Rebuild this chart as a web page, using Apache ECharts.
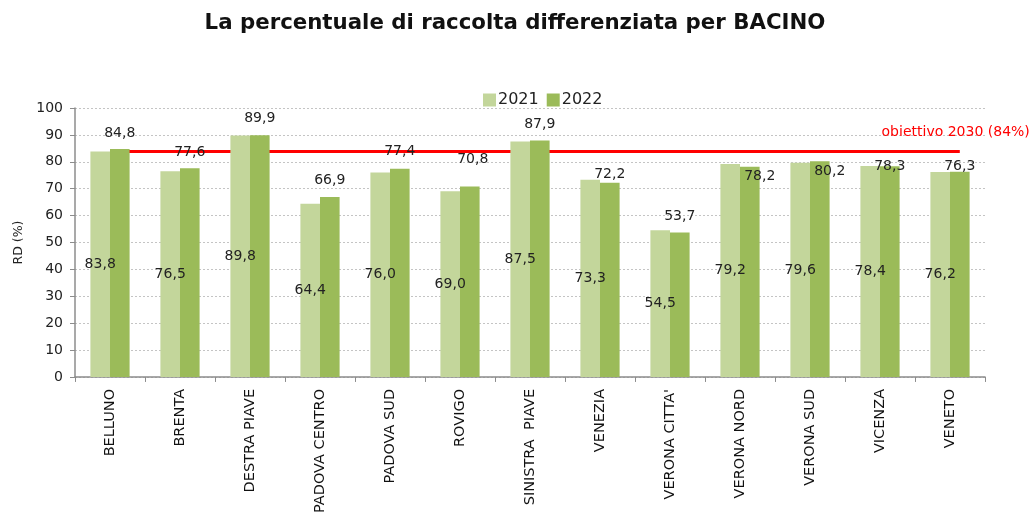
<!DOCTYPE html>
<html>
<head>
<meta charset="utf-8">
<script src="https://cdn.jsdelivr.net/npm/echarts@6/dist/echarts.min.js"></script>
<style>html,body{margin:0;padding:0;background:#fff}#c{width:1030px;height:516px}</style>
</head>
<body>
<div id="c"></div>
<script>
const categories = ['BELLUNO','BRENTA','DESTRA PIAVE','PADOVA CENTRO','PADOVA SUD','ROVIGO','SINISTRA  PIAVE','VENEZIA','VERONA CITTA\'','VERONA NORD','VERONA SUD','VICENZA','VENETO'];
const values2021 = [83.8,76.5,89.8,64.4,76.0,69.0,87.5,73.3,54.5,79.2,79.6,78.4,76.2];
const values2022 = [84.8,77.6,89.9,66.9,77.4,70.8,87.9,72.2,53.7,78.2,80.2,78.3,76.3];
const target2030 = 84;
const yTicks = {min:0, max:100, interval:10};

// label nudges (layout only)
const label2022Offset = [[0,-4],[0,-4],[0,-5],[0,-5],[0,-5],[3,-15],[0,-4],[0,4],[0,-4],[10,22],[10,22],[0,12],[0,7]];

const fmt = v => v.toFixed(1).replace('.', ',');
const FONT = 'DejaVu Sans';

const chart = echarts.init(document.getElementById('c'), null, {renderer:'canvas'});
chart.setOption({
  animation:false,
  backgroundColor:'#fff',
  textStyle:{fontFamily:FONT},
  title:{
    text:'La percentuale di raccolta differenziata per BACINO',
    left:'center', top:8,
    textStyle:{fontFamily:FONT, fontWeight:'bold', fontSize:21.3, color:'#111'}
  },
  legend:{
    top:87, left:478,
    itemWidth:13, itemHeight:13, itemGap:8,
    icon:'rect',
    textStyle:{fontFamily:FONT, fontSize:16, color:'#222', padding:[0,0,0,-3]},
    data:['2021','2022']
  },
  grid:{left:75, right:45, top:108, bottom:138},
  xAxis:{
    type:'category',
    data:categories,
    axisLine:{lineStyle:{color:'#8c8c8c', width:1.5}},
    axisTick:{show:true, alignWithLabel:false, length:5, lineStyle:{color:'#8c8c8c'}},
    axisLabel:{rotate:90, fontFamily:FONT, fontSize:14.5, color:'#111', margin:12, interval:0}
  },
  yAxis:{
    type:'value',
    min:yTicks.min, max:yTicks.max, interval:yTicks.interval,
    name:'RD (%)', nameLocation:'middle', nameGap:48, nameRotate:90,
    nameTextStyle:{fontFamily:FONT, fontSize:12.5, color:'#222'},
    axisLine:{show:true, lineStyle:{color:'#8c8c8c', width:1.5}},
    axisTick:{show:true, length:5, inside:false, lineStyle:{color:'#8c8c8c'}},
    axisLabel:{fontFamily:FONT, fontSize:14, color:'#222', margin:12},
    splitLine:{lineStyle:{color:'#c4c4c4', type:[2,2], width:1}}
  },
  series:[
    {
      name:'2021', type:'bar', data:values2021,
      barGap:'0%', barCategoryGap:'44%',
      itemStyle:{color:'#c3d69b'},
      label:{show:true, position:'inside', formatter:p=>fmt(p.value), fontFamily:FONT, fontSize:14, color:'#222'},
      z:2
    },
    {
      name:'2022', type:'bar',
      data:values2022.map((v,i)=>({value:v, label:{offset:label2022Offset[i]}})),
      itemStyle:{color:'#9bbb59'},
      label:{show:true, position:'top', formatter:p=>fmt(p.value), fontFamily:FONT, fontSize:14, color:'#222'},
      z:2,
      markLine:{
        silent:true, symbol:['none','none'], z:1,
        lineStyle:{color:'#ff0000', width:3, type:'solid'},
        label:{show:true, position:'insideEndTop', formatter:'obiettivo 2030 (84%)', color:'#ff0000',
          fontFamily:FONT, fontSize:14, offset:[75,-7]},
        data:[[{coord:[0,target2030]},{coord:[categories.length-1,target2030]}]]
      }
    }
  ]
});
</script>
</body>
</html>
